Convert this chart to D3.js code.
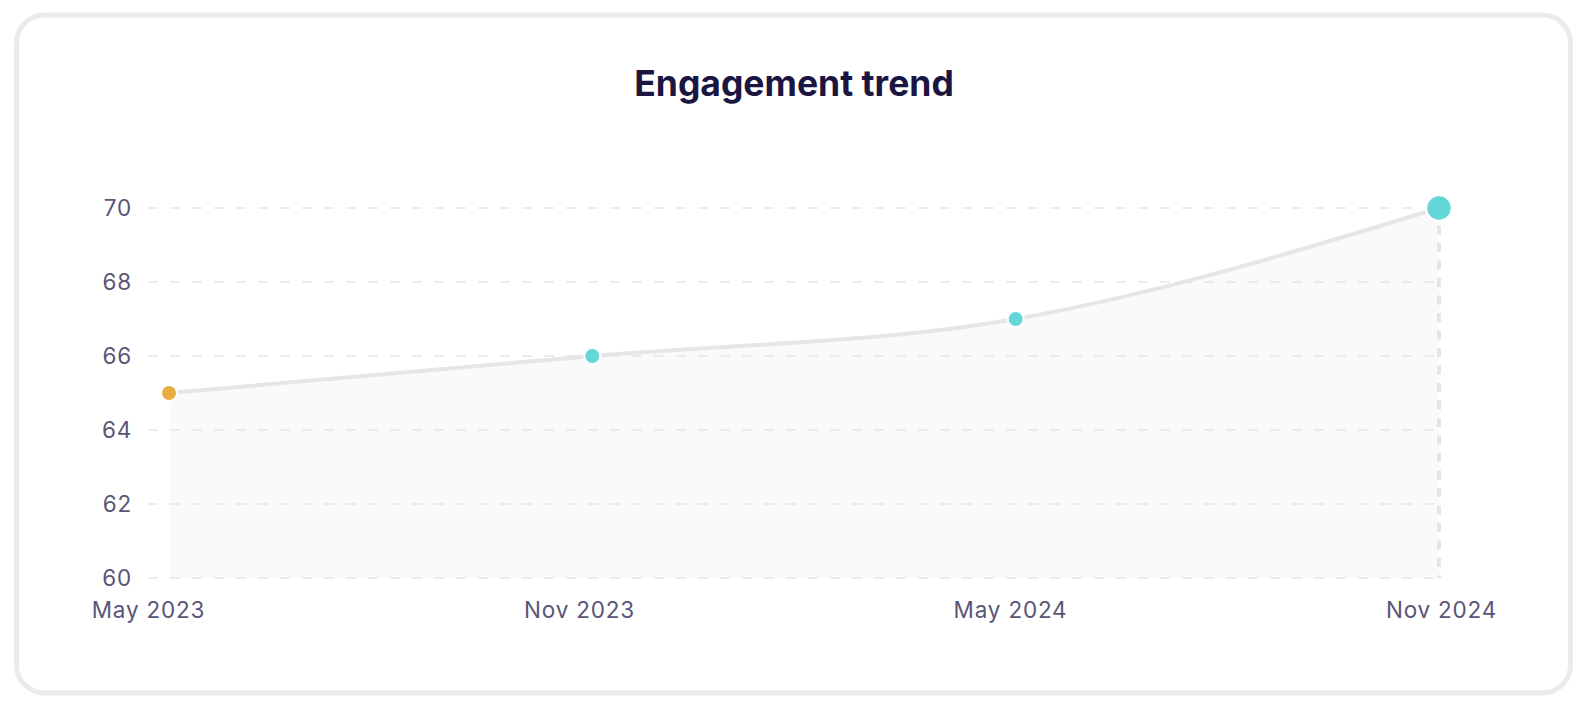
<!DOCTYPE html>
<html>
<head>
<meta charset="utf-8">
<script src="https://cdn.jsdelivr.net/npm/d3@7"></script>
<style>
  html, body { margin: 0; padding: 0; background: #ffffff; }
  svg { display: block; }
  text { font-family: Inter, "Noto Sans", sans-serif; }
</style>
</head>
<body>
<svg id="chart" width="1584" height="716"></svg>
<script>
// ---- data ----
const categories = ["May 2023", "Nov 2023", "May 2024", "Nov 2024"];
const values = [65, 66, 67, 70];
const yTicks = [60, 62, 64, 66, 68, 70];
const pointColors = ["#e8ad42", "#62d6d8", "#62d6d8", "#62d6d8"];
const highlightIndex = 3;
const title = "Engagement trend";

// ---- layout ----
const svg = d3.select("#chart");

// card
svg.append("rect")
  .attr("x", 16.5).attr("y", 15).attr("width", 1554).attr("height", 678)
  .attr("rx", 28).attr("ry", 28)
  .attr("fill", "#ffffff").attr("stroke", "#ebebee").attr("stroke-width", 5);

svg.append("text")
  .attr("x", 794).attr("y", 95.5)
  .attr("text-anchor", "middle")
  .attr("font-size", 35.5).attr("font-weight", 700)
  .attr("fill", "#1b1542")
  .text(title);

const gridLeft = 148, plotLeft = 169, plotRight = 1439;
const y = d3.scaleLinear().domain([60, 70]).range([578, 208]);
const x = d3.scalePoint().domain(categories).range([plotLeft, plotRight]);
const xLabel = d3.scalePoint().domain(categories).range([gridLeft, 1441]);

const data = categories.map((c, i) => ({ c, v: values[i], i }));
const curve = d3.curveMonotoneX;

// area
svg.append("path").datum(data)
  .attr("d", d3.area().x(d => x(d.c)).y0(y(60)).y1(d => y(d.v)).curve(curve))
  .attr("fill", "#fafafb");

// grid
const grid = svg.append("g");
grid.selectAll("line").data(yTicks).join("line")
  .attr("x1", gridLeft).attr("x2", plotRight)
  .attr("y1", d => y(d)).attr("y2", d => y(d))
  .attr("stroke", "#e6e6ec").attr("stroke-width", 1.6)
  .attr("stroke-dasharray", "10,12");

// y axis
const yAxis = svg.append("g")
  .attr("transform", `translate(${gridLeft - 16},0)`)
  .call(d3.axisLeft(y).tickValues(yTicks).tickSize(0).tickPadding(0).tickFormat(d3.format("d")));
yAxis.select(".domain").remove();
yAxis.selectAll("text")
  .attr("font-size", 22.5).attr("fill", "#5a5577")
  .attr("letter-spacing", 0.8)
  .attr("font-family", "Inter, 'Noto Sans', sans-serif")
  .attr("dy", "0.35em");

// x axis
const xAxis = svg.append("g")
  .attr("transform", `translate(0,${y(60)})`)
  .call(d3.axisBottom(xLabel).tickSize(0).tickPadding(0));
xAxis.select(".domain").remove();
xAxis.selectAll("text")
  .attr("font-size", 22.5).attr("fill", "#5a5577")
  .attr("letter-spacing", 0.8)
  .attr("font-family", "Inter, 'Noto Sans', sans-serif")
  .attr("dy", null).attr("y", 40);

// highlight vertical line
const hd = data[highlightIndex];
svg.append("line")
  .attr("x1", x(hd.c)).attr("x2", x(hd.c))
  .attr("y1", y(hd.v)).attr("y2", y(60))
  .attr("stroke", "#e4e4ea").attr("stroke-width", 4)
  .attr("stroke-dasharray", "9,8.5");

// line
svg.append("path").datum(data)
  .attr("d", d3.line().x(d => x(d.c)).y(d => y(d.v)).curve(curve))
  .attr("fill", "none").attr("stroke", "#e6e6ea").attr("stroke-width", 4);

// points
svg.selectAll("circle.pt").data(data).join("circle")
  .attr("class", "pt")
  .attr("cx", d => x(d.c)).attr("cy", d => y(d.v))
  .attr("r", d => d.i === highlightIndex ? 13 : 8)
  .attr("fill", d => pointColors[d.i])
  .attr("stroke", "#ffffff").attr("stroke-width", d => d.i === highlightIndex ? 2.5 : 2);
</script>
</body>
</html>
